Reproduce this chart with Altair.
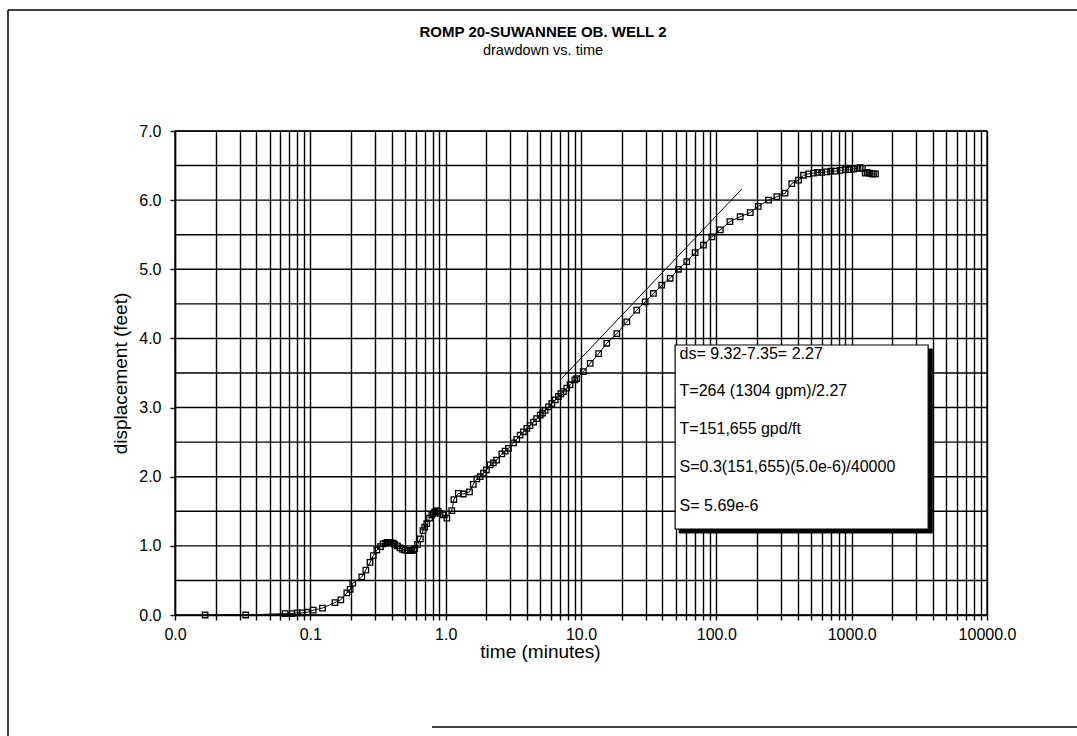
import altair as alt
import pandas as pd

# ---- data ----
time_min = [0.0167, 0.0333, 0.065, 0.073, 0.080, 0.087, 0.095, 0.105, 0.123, 0.152, 0.168,
            0.186, 0.197, 0.206, 0.24, 0.257, 0.276, 0.292, 0.31, 0.33, 0.345, 0.36, 0.37, 0.38,
            0.39, 0.41, 0.42, 0.44, 0.46, 0.48, 0.50, 0.52, 0.53, 0.55, 0.56, 0.58, 0.59, 0.62,
            0.65, 0.68, 0.70, 0.725, 0.76, 0.79, 0.81, 0.83, 0.86, 0.88, 0.91, 0.955, 1.02,
            1.11, 1.15, 1.24, 1.35, 1.50, 1.60, 1.70, 1.80, 1.90, 2.0, 2.13, 2.25, 2.38, 2.60,
            2.75, 2.91, 3.17, 3.35, 3.55, 3.75, 3.98, 4.2, 4.46, 4.7, 5.0, 5.2, 5.43, 5.75,
            6.09, 6.45, 6.81, 7.1, 7.42, 7.85, 8.3, 9.0, 9.3, 10.4, 11.7, 13.5, 15.5, 18.4,
            21.8, 25.8, 29.8, 34.3, 39.5, 45.6, 52.5, 60.5, 69.7, 80.3, 92.7, 107, 126, 150,
            178, 204, 243, 280, 322, 361, 405, 441, 480, 522, 560, 600, 655, 700, 760, 822,
            900, 960, 1030, 1100, 1156, 1200, 1259, 1300, 1350, 1412, 1450, 1500]
drawdown = [0.0, 0.0, 0.02, 0.02, 0.03, 0.03, 0.04, 0.07, 0.10, 0.18, 0.22,
            0.32, 0.37, 0.46, 0.55, 0.65, 0.76, 0.86, 0.94, 0.99, 1.03, 1.04, 1.05, 1.05,
            1.05, 1.04, 1.02, 1.00, 0.97, 0.95, 0.94, 0.93, 0.93, 0.93, 0.93, 0.94, 0.955, 1.02,
            1.10, 1.22, 1.27, 1.32, 1.40, 1.45, 1.47, 1.49, 1.51, 1.50, 1.47, 1.45, 1.40,
            1.51, 1.67, 1.76, 1.75, 1.78, 1.89, 1.97, 2.00, 2.05, 2.10, 2.17, 2.20, 2.24, 2.33,
            2.37, 2.41, 2.49, 2.54, 2.60, 2.65, 2.70, 2.74, 2.79, 2.84, 2.89, 2.92, 2.96, 3.01,
            3.06, 3.11, 3.16, 3.20, 3.23, 3.28, 3.33, 3.40, 3.42, 3.52, 3.64, 3.78, 3.93, 4.07,
            4.24, 4.41, 4.53, 4.65, 4.77, 4.87, 5.00, 5.11, 5.24, 5.35, 5.47, 5.57, 5.69, 5.76,
            5.82, 5.91, 6.00, 6.05, 6.10, 6.24, 6.29, 6.36, 6.38, 6.39, 6.40, 6.40, 6.41, 6.42,
            6.42, 6.43, 6.44, 6.44, 6.45, 6.46, 6.47, 6.46, 6.39, 6.40, 6.39, 6.38, 6.38, 6.38]

fit_time = [7.2, 154.0]
fit_disp = [3.42, 6.16]

note_lines = ["ds= 9.32-7.35= 2.27",
              "T=264 (1304 gpm)/2.27",
              "T=151,655 gpd/ft",
              "S=0.3(151,655)(5.0e-6)/40000",
              "S= 5.69e-6"]
note_time = [53.5, 53.5, 53.5, 53.5, 53.5]
note_disp = [3.77, 3.24, 2.69, 2.14, 1.58]

box_time = [49.6, 3675.0]
box_disp = [1.244, 3.905]
shadow_time = [53.1, 3936.0]
shadow_disp = [1.186, 3.847]

title_text = "ROMP 20-SUWANNEE OB. WELL 2"
subtitle_text = "drawdown vs. time"

x_ticks = [m * 10.0 ** e for e in range(-2, 4) for m in range(1, 10)] + [10000.0]
y_ticks = [i * 0.5 for i in range(15)]

FONT = "Liberation Sans"

df = pd.DataFrame({"t": time_min, "s": drawdown})
fit_df = pd.DataFrame({"t": fit_time, "s": fit_disp})
note_df = pd.DataFrame({"t": note_time, "s": note_disp, "label": note_lines})
box_df = pd.DataFrame({"t": [box_time[0]], "t2": [box_time[1]], "s": [box_disp[0]], "s2": [box_disp[1]]})
shadow_df = pd.DataFrame({"t": [shadow_time[0]], "t2": [shadow_time[1]], "s": [shadow_disp[0]], "s2": [shadow_disp[1]]})
ygrid_df = pd.DataFrame({"s": y_ticks})

xscale = alt.Scale(type="log", domain=[0.01, 10000], nice=False)
yscale = alt.Scale(domain=[0, 7], nice=False)

xaxis = alt.Axis(
    title="time (minutes)", values=x_ticks,
    labelExpr="abs(log(datum.value)/LN10 - round(log(datum.value)/LN10)) < 0.000001 ? format(datum.value, '.1f') : ''",
    labelOverlap=False, labelFlush=False, grid=True, tickSize=5,
    labelFontSize=16, titleFontSize=19, labelPadding=6, titlePadding=0, titleX=365,
)
yaxis = alt.Axis(
    title="displacement (feet)", values=y_ticks,
    labelExpr="datum.value % 1 == 0 ? format(datum.value, '.1f') : ''",
    labelOverlap=False, grid=False, tickSize=5,
    labelFontSize=16, titleFontSize=19, labelPadding=9, titlePadding=8,
)

ygrid = alt.Chart(ygrid_df).mark_rule(color="black", strokeWidth=1.4).encode(
    y=alt.Y("s:Q", scale=yscale, axis=yaxis)
)

base = alt.Chart(df)
line = base.mark_line(color="black", strokeWidth=1).encode(
    x=alt.X("t:Q", scale=xscale, axis=xaxis),
    y=alt.Y("s:Q", scale=yscale, axis=yaxis),
)
pts = base.mark_point(shape="square", filled=False, size=30, color="black", strokeWidth=1.3, opacity=1).encode(
    x=alt.X("t:Q", scale=xscale), y=alt.Y("s:Q", scale=yscale)
)
fit = alt.Chart(fit_df).mark_line(color="black", strokeWidth=1).encode(
    x=alt.X("t:Q", scale=xscale), y=alt.Y("s:Q", scale=yscale)
)
shadow = alt.Chart(shadow_df).mark_rect(fill="black", stroke="black").encode(
    x=alt.X("t:Q", scale=xscale), x2="t2:Q", y=alt.Y("s:Q", scale=yscale), y2="s2:Q"
)
box = alt.Chart(box_df).mark_rect(fill="white", stroke="black", strokeWidth=1.2).encode(
    x=alt.X("t:Q", scale=xscale), x2="t2:Q", y=alt.Y("s:Q", scale=yscale), y2="s2:Q"
)
notes = alt.Chart(note_df).mark_text(align="left", baseline="middle", fontSize=16, font=FONT, color="black").encode(
    x=alt.X("t:Q", scale=xscale), y=alt.Y("s:Q", scale=yscale), text="label:N"
)

one = pd.DataFrame({"k": [0]})
title_mark = alt.Chart(pd.DataFrame({"label": [title_text]})).mark_text(
    font=FONT, fontSize=15, fontWeight="bold", color="black", align="center", baseline="middle"
).encode(x=alt.value(368), y=alt.value(-99), text="label:N")
subtitle_mark = alt.Chart(pd.DataFrame({"label": [subtitle_text]})).mark_text(
    font=FONT, fontSize=14.5, color="black", align="center", baseline="middle"
).encode(x=alt.value(368), y=alt.value(-80), text="label:N")

frame_top = alt.Chart(one).mark_rule(color="black", strokeWidth=1.5).encode(
    x=alt.value(-167), x2=alt.value(902), y=alt.value(-121))
frame_left = alt.Chart(one).mark_rule(color="black", strokeWidth=1.5).encode(
    x=alt.value(-167), y=alt.value(-121), y2=alt.value(605))
frame_bottom = alt.Chart(one).mark_rule(color="black", strokeWidth=1.5).encode(
    x=alt.value(257), x2=alt.value(902), y=alt.value(596))

chart = alt.layer(
    ygrid, line, pts, fit, shadow, box, notes, title_mark, subtitle_mark, frame_top, frame_left, frame_bottom
).properties(
    width=812, height=484,
    autosize=alt.AutoSizeParams(type="none"),
    padding={"left": 175, "top": 131, "right": 90, "bottom": 121},
).configure(
    background="white"
).configure_axis(
    labelFont=FONT, titleFont=FONT, labelColor="black", titleColor="black",
    titleFontWeight="normal", domainColor="black", tickColor="black",
    gridColor="black", gridOpacity=1, gridWidth=1.4, domainWidth=1.4, tickWidth=1.4,
).configure_view(stroke="black", strokeWidth=1.4)

chart.save("out.html", embed_options={"renderer": "svg", "actions": False})
